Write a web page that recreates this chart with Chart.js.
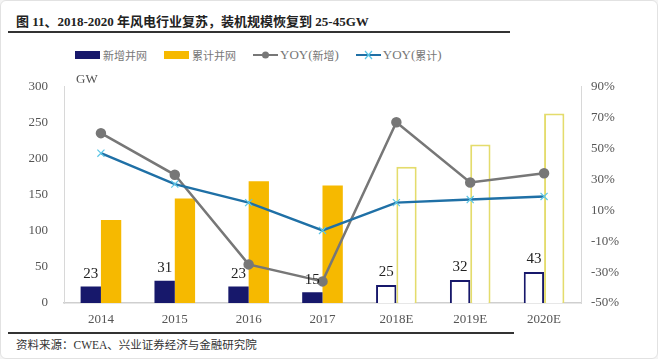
<!DOCTYPE html>
<html>
<head>
<meta charset="utf-8">
<script src="https://cdn.jsdelivr.net/npm/chart.js@4"></script>
<style>
  body { margin: 0; background: #f4f4f4; }
  #wrap { position: relative; width: 656px; height: 357px; background: #fff; border: 1px solid #e2e2e2; border-radius: 6px; overflow: hidden; }
  #title { position: absolute; left: 15px; top: 10px; font: bold 13px "Liberation Serif", "Noto Sans CJK SC", serif; color: #222; white-space: nowrap; }
  #rule-top { position: absolute; left: 7px; top: 30px; width: 502px; height: 2px; background: #333; }
  #legend { position: absolute; left: 74px; top: 46px; display: flex; align-items: center; font: 11px "Noto Sans CJK SC", "Liberation Serif", serif; color: #777; }
  #legend .item { display: flex; align-items: center; margin-right: 17px; }
  #legend .box { width: 25px; height: 8px; margin-right: 3px; }
  #legend .ln { position: relative; width: 25px; height: 2px; margin-right: 2px; }
  #legend .ser { font-family: "Liberation Serif", serif; font-size: 13px; }
  #chart-box { position: absolute; left: 0; top: 62px; width: 658px; height: 268px; }
  #rule-bottom { position: absolute; left: 7px; top: 331px; width: 506px; height: 2px; background: #333; }
  #source { position: absolute; left: 15px; top: 335px; font: 11.5px "Liberation Serif", "Noto Sans CJK SC", serif; color: #333; white-space: nowrap; }
</style>
</head>
<body>
<div id="wrap">
  <div id="title">图 11、2018-2020 年风电行业复苏，装机规模恢复到 25-45GW</div>
  <div id="rule-top"></div>
  <div id="legend">
    <div class="item"><div class="box" style="background:#17186b"></div>新增并网</div>
    <div class="item"><div class="box" style="background:#f6b900"></div>累计并网</div>
    <div class="item"><div class="ln" style="background:#777"><svg width="25" height="10" style="position:absolute;left:0;top:-4px"><circle cx="12.5" cy="5" r="3.5" fill="#777"/></svg></div><span class="ser">YOY(</span>新增<span class="ser">)</span></div>
    <div class="item"><div class="ln" style="background:#1f70a6"><svg width="25" height="10" style="position:absolute;left:0;top:-4px"><path d="M9 1 L16 9 M16 1 L9 9" stroke="#5cc6e6" stroke-width="1.2"/></svg></div><span class="ser">YOY(</span>累计<span class="ser">)</span></div>
  </div>
  <div id="chart-box"><canvas id="chart"></canvas></div>
  <div id="rule-bottom"></div>
  <div id="source">资料来源：CWEA、兴业证券经济与金融研究院</div>
</div>
<script>
const years = ["2014", "2015", "2016", "2017", "2018E", "2019E", "2020E"];
const newInstalled = [23, 31, 23, 15, 25, 32, 43];
const cumInstalled = [115, 145, 169, 163, 189, 220, 263];
const yoyNew = [60, 33, -25, -36, 67, 28, 34];
const yoyCum = [47, 27, 15, -3, 15, 17, 19];
const isForecast = [false, false, false, false, true, true, true];

const navy = "#17186b";
const gold = "#f6b900";
const paleGold = "#e4dc6c";
const tickFont = { family: "Liberation Serif", size: 13 };

// numbers over the new-capacity bars, plus the "GW" unit
const labelPlugin = {
  id: "barLabels",
  afterDatasetsDraw(chart) {
    const ctx = chart.ctx;
    const meta = chart.getDatasetMeta(0);
    ctx.save();
    ctx.fillStyle = "#222";
    ctx.font = "15px 'Liberation Serif'";
    ctx.textAlign = "center";
    ctx.textBaseline = "bottom";
    meta.data.forEach((bar, i) => {
      ctx.fillText(newInstalled[i], bar.x, bar.y - 5);
    });
    ctx.font = "13px 'Liberation Serif'";
    ctx.fillStyle = "#555";
    ctx.textAlign = "left";
    ctx.fillText("GW", chart.chartArea.left + 12, chart.chartArea.top - 1);
    ctx.restore();
  }
};

new Chart(document.getElementById("chart"), {
  data: {
    labels: years,
    datasets: [
      {
        type: "bar",
        label: "新增并网",
        data: newInstalled,
        yAxisID: "y",
        backgroundColor: isForecast.map(f => f ? "#fff" : navy),
        borderColor: navy,
        borderWidth: isForecast.map(f => f ? 2 : 0),
        categoryPercentage: 0.55,
        barPercentage: 1,
        order: 2
      },
      {
        type: "bar",
        label: "累计并网",
        data: cumInstalled,
        yAxisID: "y",
        backgroundColor: isForecast.map(f => f ? "#fff" : gold),
        borderColor: isForecast.map(f => f ? paleGold : gold),
        borderWidth: isForecast.map(f => f ? 2 : 0),
        categoryPercentage: 0.55,
        barPercentage: 1,
        order: 2
      },
      {
        type: "line",
        label: "YOY(新增)",
        data: yoyNew,
        yAxisID: "y1",
        borderColor: "#777",
        borderWidth: 2.5,
        pointBackgroundColor: "#777",
        pointBorderColor: "#777",
        pointRadius: 4,
        tension: 0,
        order: 1
      },
      {
        type: "line",
        label: "YOY(累计)",
        data: yoyCum,
        yAxisID: "y1",
        borderColor: "#1f70a6",
        borderWidth: 2.5,
        pointStyle: "crossRot",
        pointRadius: 5,
        pointBorderColor: "#5cc6e6",
        pointBorderWidth: 1.2,
        tension: 0,
        order: 0
      }
    ]
  },
  options: {
    responsive: true,
    maintainAspectRatio: false,
    animation: false,
    layout: { padding: { top: 20, left: 0, right: 0, bottom: 0 } },
    plugins: { legend: { display: false }, tooltip: { enabled: false } },
    scales: {
      x: {
        grid: { display: false, drawTicks: false },
        border: { color: "#cfcfcf", width: 1.5 },
        ticks: { font: tickFont, color: "#555", padding: 9 },
        afterFit(scale) { scale.height = 28; }
      },
      y: {
        position: "left",
        min: 0, max: 300,
        grid: { display: false, drawTicks: false },
        border: { color: "#d8d8d8" },
        ticks: { stepSize: 50, font: tickFont, color: "#555", padding: 16 },
        afterFit(scale) { scale.width = 63; }
      },
      y1: {
        position: "right",
        min: -50, max: 90,
        grid: { display: false, drawOnChartArea: false, tickLength: 4, color: "#d8d8d8" },
        border: { color: "#d8d8d8" },
        ticks: { stepSize: 20, font: tickFont, color: "#555", padding: 6, callback: v => v + "%" },
        afterFit(scale) { scale.width = 78; }
      }
    }
  },
  plugins: [labelPlugin]
});
</script>
</body>
</html>
